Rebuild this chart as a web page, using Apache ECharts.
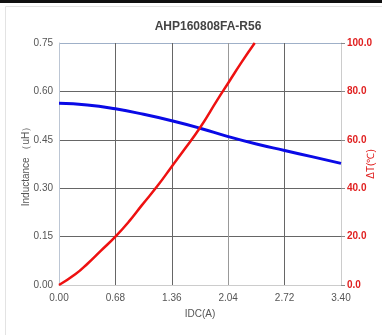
<!DOCTYPE html>
<html><head><meta charset="utf-8">
<script src="https://cdn.jsdelivr.net/npm/echarts@6/dist/echarts.min.js"></script>
<style>html,body{margin:0;padding:0;background:#fff;}#c{width:382px;height:335px;}</style>
</head><body><div id="c"></div>
<script>
const titleText = 'AHP160808FA-R56';
const xTicks = [0, 0.68, 1.36, 2.04, 2.72, 3.40];
const inductance = [[0,0.563],[0.34,0.558],[0.68,0.546],[1.02,0.529],[1.36,0.509],[1.70,0.486],[2.04,0.460],[2.38,0.437],[2.72,0.417],[3.06,0.397],[3.40,0.377]];
const tempRise = [[0,0],[0.20,4.5],[0.35,9],[0.50,14],[0.68,20],[0.85,26.5],[1.00,33],[1.20,41.5],[1.36,49],[1.50,55.5],[1.70,65],[1.90,76],[2.05,84],[2.20,92],[2.36,100]];

const chart = echarts.init(document.getElementById('c'));
const font = '"Liberation Sans", Arial, sans-serif';
chart.setOption({
  animation:false,
  backgroundColor:'#fff',
  graphic:[
    {type:'rect',shape:{x:0,y:0,width:382,height:3},style:{fill:'#111'}},
    {type:'rect',shape:{x:5.5,y:6.5,width:390,height:340},style:{fill:'none',stroke:'#e3e3e3',lineWidth:1}}
  ],
  title:{text:titleText,left:203,textAlign:'center',top:16,textStyle:{fontFamily:font,fontSize:12,fontWeight:'bold',color:'#444'}},
  grid:{left:59,right:41,top:43,bottom:50,outerBoundsMode:'none',containLabel:false},
  xAxis:{type:'value',min:0,max:3.4,interval:0.68,
    name:'IDC(A)',nameLocation:'middle',nameGap:24,nameTextStyle:{fontFamily:font,fontSize:10,color:'#555'},
    axisLine:{lineStyle:{color:'#ccc'}},axisTick:{show:false},
    axisLabel:{fontFamily:font,fontSize:10,color:'#555',margin:8,formatter:v=>v.toFixed(2)},
    splitLine:{show:true,lineStyle:{color:['#ccc','#666','#666','#999','#666','#ccc'],width:1}}},
  yAxis:[
    {type:'value',min:0,max:0.75,interval:0.15,position:'left',
     name:'Inductance （uH）',nameLocation:'middle',nameGap:28,nameMoveOverlap:false,nameTextStyle:{fontFamily:font,fontSize:10,color:'#555'},
     axisLine:{show:true,lineStyle:{color:'#bcc6d4'}},axisTick:{show:false},
     axisLabel:{fontFamily:font,fontSize:10,color:'#555',margin:6,formatter:v=>v.toFixed(2)},
     splitLine:{show:true,lineStyle:{color:['#ccc','#666','#666','#666','#666','#9fb0c8'],width:1}}},
    {type:'value',min:0,max:100,interval:20,position:'right',
     name:'ΔT(℃)',nameLocation:'middle',nameGap:25,nameMoveOverlap:false,nameTextStyle:{fontFamily:font,fontSize:10,color:'#e02020'},
     axisLine:{show:true,lineStyle:{color:'#ccc'}},axisTick:{show:true,length:4,lineStyle:{color:'#888'}},
     axisLabel:{fontFamily:font,fontSize:10,fontWeight:'bold',color:'#e02020',margin:6,formatter:v=>v.toFixed(1)},
     splitLine:{show:false}}
  ],
  series:[
    {type:'line',yAxisIndex:0,data:inductance,smooth:true,symbol:'none',lineStyle:{color:'#0a0ae6',width:3}},
    {type:'line',yAxisIndex:1,data:tempRise,smooth:true,symbol:'none',lineStyle:{color:'#ee1111',width:2.5}}
  ]
});
</script></body></html>
